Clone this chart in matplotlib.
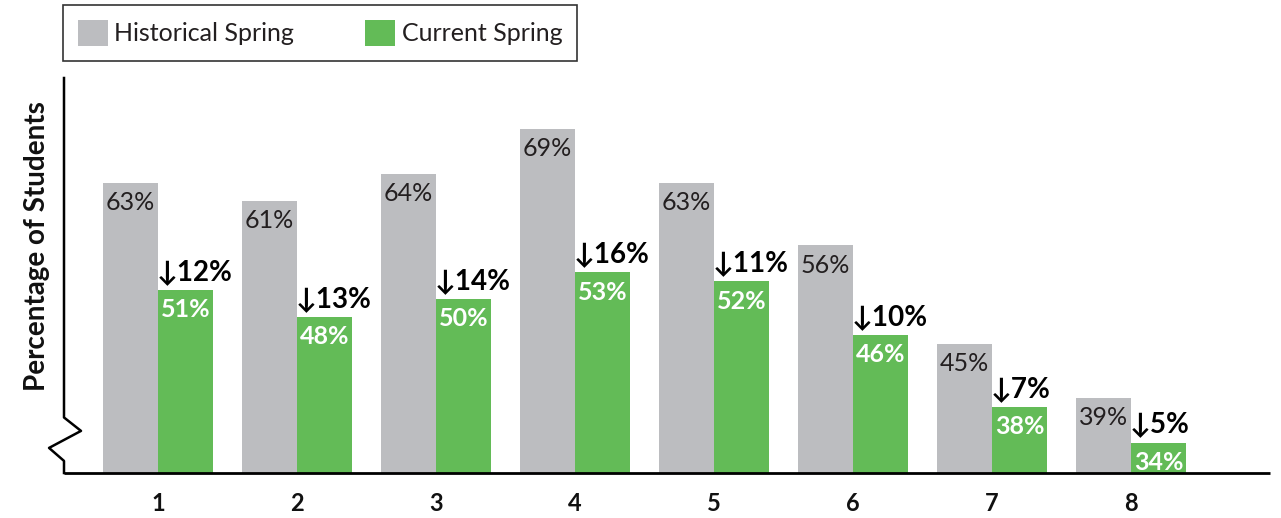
import matplotlib
matplotlib.use("Agg")
import matplotlib.pyplot as plt
from matplotlib.patches import Patch
from matplotlib.lines import Line2D
import matplotlib.transforms as mtransforms

categories = ["1", "2", "3", "4", "5", "6", "7", "8"]
historical = [63, 61, 64, 69, 63, 56, 45, 39]
current = [51, 48, 50, 53, 52, 46, 38, 34]
drops = [12, 13, 14, 16, 11, 10, 7, 5]

GREY = "#bcbdc0"
GREEN = "#63bb57"
FONT = ["Lato", "DejaVu Sans"]
plt.rcParams["font.family"] = FONT

W, H = 1281, 518
fig = plt.figure(figsize=(W / 100, H / 100), dpi=100)
ax = fig.add_axes([64 / W, 1 - 473 / H, (1270 - 64) / W, (473 - 78) / H])

x = list(range(1, len(categories) + 1))
bw = 0.395
ax.bar([i - bw / 2 for i in x], historical, width=bw, color=GREY, bottom=0)
ax.bar([i + bw / 2 for i in x], current, width=bw, color=GREEN, bottom=0)

ymin, ymax = 30.6, 74.7
ax.set_xlim(0.324, 9.0)
ax.set_ylim(ymin, ymax)

for s in ax.spines.values():
    s.set_visible(False)
ax.set_yticks([])
ax.set_xticks(x)
ax.set_xticklabels(categories, fontsize=17, fontweight="bold", color="#111111")
ax.tick_params(axis="x", length=0, pad=14)

# bottom axis line
ax.plot([0, 1], [0, 0], transform=ax.transAxes, color="black", lw=2, clip_on=False,
        solid_capstyle="butt")
# left axis with zigzag break
tr = mtransforms.blended_transform_factory(ax.transAxes, ax.transData)
zx = [0, 0, 0.0141, -0.0124, 0, 0]
zy = [ymax, 36.8, 35.3, 33.4, 31.95, ymin]
ax.add_line(Line2D(zx, zy, transform=tr, color="black", lw=1.8, clip_on=False))

# labels
toff = 2.2
for i, h, c, d in zip(x, historical, current, drops):
    ax.text(i - bw / 2, h - toff, f"{h}%", ha="center", va="center", fontsize=18,
            color="#231f20")
    ax.text(i + bw / 2, c - toff, f"{c}%", ha="center", va="center", fontsize=18,
            color="white", fontweight="bold")
    ax.text(i - 0.01, c + 0.55, f"\u2193{d}%", ha="left", va="bottom",
            fontsize=20, color="black", fontweight="bold", family=FONT)

fig.text(37 / W, 1 - 246 / H, "Percentage of Students", rotation=90, ha="center",
         va="center", fontsize=20, fontweight="bold", color="#111111")

handles = [Patch(facecolor=GREY, edgecolor="none", label="Historical Spring"),
           Patch(facecolor=GREEN, edgecolor="none", label="Current Spring")]
leg = fig.legend(handles=handles, loc="upper left", bbox_to_anchor=(63 / W, 1 - 5 / H),
                 ncol=2, fontsize=18, frameon=True, fancybox=False,
                 edgecolor="black", handlelength=1.2, handleheight=1.2,
                 columnspacing=2.85, borderpad=0.6, handletextpad=0.25,
                 borderaxespad=0)
leg.get_frame().set_linewidth(1.2)
for t in leg.get_texts():
    t.set_color("#231f20")

fig.savefig("out.png", dpi=100)
